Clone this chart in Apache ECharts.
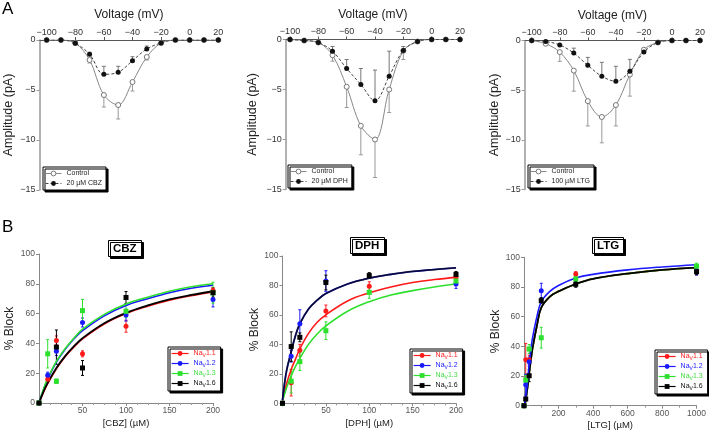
<!DOCTYPE html>
<html><head><meta charset="utf-8">
<script src="https://cdn.jsdelivr.net/npm/echarts@6/dist/echarts.min.js"></script>
<style>html,body{margin:0;padding:0;background:#fff}#c{width:709px;height:434px}</style>
</head><body><div id="c"></div>
<script>
const FONT = '"Liberation Sans", Arial, Helvetica, sans-serif';

// ---------- Panel A data (I-V curves) ----------
const voltages = [-100,-90,-80,-70,-60,-50,-40,-30,-20,-10,0,10,20];
const voltageTicks = [-100,-80,-60,-40,-20,0,20];
const ampTicks = [0,-5,-10,-15];
const drugNamesA = ['20 µM CBZ','20 µM DPH','100 µM LTG'];

const a1Control    = [0,0,-0.3,-2.0,-5.5,-6.5,-4.2,-1.7,-0.3,0,0,0,0];
const a1ControlErr = [0,0,0,0.3,1.2,1.4,0.9,0.3,0,0,0,0,0];
const a1Drug       = [0,0,-0.33,-1.43,-3.43,-3.23,-2.07,-0.9,-0.3,0,0,0,0];
const a1DrugErr    = [0,0,0,0.2,0.8,0.6,0.4,0.3,0,0,0,0,0];

const a2Control    = [0,-0.1,-0.3,-1.57,-4.73,-8.63,-10.0,-5.0,-1.13,-0.2,0,0,0];
const a2ControlErr = [0,0,0,0.6,2.07,2.9,3.8,2.3,0.87,0,0,0,0];
const a2Drug       = [0,-0.1,-0.3,-1.17,-2.9,-4.5,-6.13,-3.67,-1.1,-0.2,0,0,0];
const a2DrugErr    = [0,0,0,0.47,0.9,1.6,3.07,2.5,0.4,0,0,0,0];

const a3Control    = [0,-0.33,-1.17,-3.03,-6.1,-7.7,-6.5,-3.43,-0.93,-0.2,0,0,0];
const a3ControlErr = [0,0,0.93,2.07,2.5,2.6,2.1,2.17,0.3,0,0,0,0];
const a3Drug       = [0,-0.1,-0.45,-1.27,-2.5,-3.6,-4.1,-3.1,-1.17,-0.2,0,0,0];
const a3DrugErr    = [0,0,0,0.5,0.8,1.4,1.5,1.2,0.3,0,0,0,0];

// ---------- Panel B data (% block) ----------
const channels = ['Nav1.1','Nav1.2','Nav1.3','Nav1.6'];
const blockTicks = [0,20,40,60,80,100];

const cbzConc = [0,10,20,50,100,200];
const cbzTicks = [50,100,150,200];
const cbzNav11 = [0,16,42,33,51.5,75.5];   const cbzNav11Err = [0,1.5,3,2,4,2];
const cbzNav12 = [0,18.7,34.8,54,59,69.5]; const cbzNav12Err = [0,2,3,3,4,5];
const cbzNav13 = [0,33,14.6,62,61.5,74];   const cbzNav13Err = [0,9.5,1.5,7.5,4,7];
const cbzNav16 = [0,null,37.5,23.5,70.8,74]; const cbzNav16Err = [0,0,11.5,5,4,3];
const cbzFitConc = [0,5,10,20,30,40,50,75,100,125,150,175,200];
const cbzFit11 = [0,7,13,23,31,37.5,43,53,60,65,69,72,74.5];
const cbzFit12 = [0,8.6,16,27.5,36,43,48.5,58.5,65.5,70,74,77,79];
const cbzFit13 = [0,9,16.5,28,36.5,43.5,49.5,59.5,66.5,71,75,78,80];
const cbzFit16 = [0,7.5,13.5,23.5,31.5,38,43.5,53.5,60.5,65.5,69.5,72.5,75];

const dphConc = [0,10,20,50,100,200];
const dphTicks = [50,100,150,200];
const dphNav11 = [0,14,36,62.7,79.5,85.7];   const dphNav11Err = [0,9,4,4,3,2];
const dphNav12 = [0,32,54,83,null,81];       const dphNav12Err = [0,4,9.5,7,0,3];
const dphNav13 = [0,15,28.3,49.3,75.3,83];   const dphNav13Err = [0,8,6,6,4,2];
const dphNav16 = [0,38.5,44.8,82,86.7,87.5]; const dphNav16Err = [0,10,3,5,2,2];
const dphFitConc = [0,2,5,10,15,20,30,40,50,75,100,125,150,175,200];
const dphFit11 = [2,7,14,23,30,37,47.5,55,60,69.5,75,79,82,84,85.5];
const dphFit12 = [2,12,23,35,46,54,64,70,74.5,81,85,87.5,89.5,90.8,92];
const dphFit13 = [2,5.5,11,18.5,25,30.5,40,47,52.5,62.5,69,73.5,76.5,79,81];
const dphFit16 = [2,12,23,35,46,54,64,70,74.5,81,85,87.5,89.5,90.8,92];

const ltgConc = [0,10,30,100,300,1000];
const ltgTicks = [200,400,600,800,1000];
const ltgNav11 = [0,31,31,null,88.8,null];  const ltgNav11Err = [0,11,3,0,1.5,0];
const ltgNav12 = [0,14.2,29.7,77.5,null,91]; const ltgNav12Err = [0,7,3,5,0,3];
const ltgNav13 = [0,17.3,38.2,45.8,85.4,94]; const ltgNav13Err = [0,3,3,7,2,2];
const ltgNav16 = [0,4.5,20.2,70.8,81.8,90.3]; const ltgNav16Err = [0,1,4,2,2,2];
const ltgFitConc = [0,5,10,20,30,40,50,75,100,150,200,300,400,600,800,1000];
const ltgFit12 = [0,2,6,16,28,38,46,60,70,77,81,86,88.5,91.5,93.5,95];
const ltgFit16 = [0,1,4,12,22,31,39,54,66,73.5,77,82,85.5,89,91.5,93];

// ---------- styling ----------
const COLORS = {'Nav1.1':'#ff1a1a','Nav1.2':'#1a1aff','Nav1.3':'#2ee02e','Nav1.6':'#000000'};
const TEXTC  = {'Nav1.1':'#ff2020','Nav1.2':'#2020ff','Nav1.3':'#40dd40','Nav1.6':'#111111'};
const SYMB   = {'Nav1.1':'circle','Nav1.2':'circle','Nav1.3':'rect','Nav1.6':'rect'};
const KEY    = {'Nav1.1':'r','Nav1.2':'b','Nav1.3':'g','Nav1.6':'k'};

const gridsA = [
  {left:39.5, top:40, width:178.8, height:150},
  {left:285.75, top:39.5, width:174.25, height:150},
  {left:524.7, top:40.5, width:175.3, height:149}
];
const xMinA = [-105,-103,-105];
const yNameGapA = [24,27,22];
const gridsB = [
  {left:39, top:254, width:174, height:149},
  {left:282.5, top:256, width:173.5, height:147.3},
  {left:524, top:257.3, width:174.3, height:148.4}
];
const yNameGapB = [23,21,20];

function minusFmt(v){ return String(v).replace('-', '\u2212'); }
function plainFmt(v){ return String(v); }

const xAxes = [], yAxes = [], series = [], legends = [];

function errSeries(ai, pts, color, cap){
  return {type:'custom', xAxisIndex:ai, yAxisIndex:ai, silent:true, z:2,
    encode:{x:0, y:[1,2]}, data:pts,
    renderItem:function(params, api){
      const x = api.value(0);
      const p1 = api.coord([x, api.value(1)]), p2 = api.coord([x, api.value(2)]);
      const st = {stroke:color, lineWidth:1};
      return {type:'group', children:[
        {type:'line', shape:{x1:p1[0],y1:p1[1],x2:p2[0],y2:p2[1]}, style:st},
        {type:'line', shape:{x1:p1[0]-cap,y1:p1[1],x2:p1[0]+cap,y2:p1[1]}, style:st},
        {type:'line', shape:{x1:p2[0]-cap,y1:p2[1],x2:p2[0]+cap,y2:p2[1]}, style:st}
      ]};
    }};
}

// ----- Panel A -----
const aSets = [
  [a1Control,a1ControlErr,a1Drug,a1DrugErr],
  [a2Control,a2ControlErr,a2Drug,a2DrugErr],
  [a3Control,a3ControlErr,a3Drug,a3DrugErr]
];
const legendPosA = [[43,167],[288,165],[528,165]];
aSets.forEach((set, i) => {
  const [ctrl, ctrlE, drug, drugE] = set;
  xAxes.push({gridIndex:i, type:'value', position:'top', min:xMinA[i], max:20,
    axisLine:{show:true, onZero:false, lineStyle:{color:'#555', width:1}},
    axisTick:{show:true, customValues:voltageTicks, length:3, lineStyle:{color:'#555'}},
    axisLabel:{customValues:voltageTicks, formatter:minusFmt, fontSize:9, color:'#333', margin:3, fontFamily:FONT},
    splitLine:{show:false},
    name:'Voltage (mV)', nameLocation:'middle', nameGap:19,
    nameTextStyle:{fontSize:12, color:'#222', fontFamily:FONT}});
  yAxes.push({gridIndex:i, type:'value', min:-15, max:0, interval:5,
    axisLine:{show:true, onZero:false, lineStyle:{color:'#999', width:1.5}},
    axisTick:{show:true, length:3, lineStyle:{color:'#999'}},
    axisLabel:{customValues:ampTicks, formatter:minusFmt, fontSize:9, color:'#333', margin:4, fontFamily:FONT},
    splitLine:{show:false},
    name:'Amplitude (pA)', nameLocation:'middle', nameGap:yNameGapA[i],
    nameTextStyle:{fontSize:12.5, color:'#222', fontFamily:FONT}});
  const ctrlBars = [], drugBars = [];
  voltages.forEach((v,k) => {
    if (ctrlE[k] > 0) ctrlBars.push([v, ctrl[k]-ctrlE[k], ctrl[k]]);
    if (drugE[k] > 0) drugBars.push([v, drug[k], drug[k]+drugE[k]]);
  });
  series.push(errSeries(i, ctrlBars, '#999', 2));
  series.push(errSeries(i, drugBars, '#777', 2));
  series.push({type:'line', name:'Control', xAxisIndex:i, yAxisIndex:i, z:3,
    data:voltages.map((v,k)=>[v, ctrl[k]]), smooth:0.35, symbol:'circle', symbolSize:5, showAllSymbol:true,
    itemStyle:{color:'#fff', borderColor:'#777', borderWidth:1},
    lineStyle:{color:'#888', width:1}});
  series.push({type:'line', name:drugNamesA[i], xAxisIndex:i, yAxisIndex:i, z:4,
    data:voltages.map((v,k)=>[v, drug[k]]), smooth:0.35, symbol:'circle', symbolSize:5, showAllSymbol:true,
    itemStyle:{color:'#111'},
    lineStyle:{color:'#444', width:1, type:[3,2]}});
  legends.push({left:legendPosA[i][0], top:legendPosA[i][1], orient:'vertical',
    data:['Control', drugNamesA[i]], itemWidth:16, itemHeight:6, itemGap:3,
    padding:[3,4,3,2], borderColor:'#000', borderWidth:1, backgroundColor:'#fff',
    shadowColor:'#000', shadowBlur:0, shadowOffsetX:2, shadowOffsetY:2,
    selectedMode:false,
    lineStyle:{width:1}, itemStyle:{borderWidth:1},
    textStyle:{fontSize:7, color:'#222', fontFamily:FONT}});
});

// ----- Panel B -----
const bSets = [
  {conc:cbzConc, ticks:cbzTicks, max:200, interval:50, minorSplit:4, name:'[CBZ] (µM)',
   pts:[cbzNav11,cbzNav12,cbzNav13,cbzNav16], errs:[cbzNav11Err,cbzNav12Err,cbzNav13Err,cbzNav16Err],
   fitConc:cbzFitConc, fits:[cbzFit11,cbzFit12,cbzFit13,cbzFit16], fitOrder:[0,1,2,3]},
  {conc:dphConc, ticks:dphTicks, max:200, interval:50, minorSplit:4, name:'[DPH] (µM)',
   pts:[dphNav11,dphNav12,dphNav13,dphNav16], errs:[dphNav11Err,dphNav12Err,dphNav13Err,dphNav16Err],
   fitConc:dphFitConc, fits:[dphFit11,dphFit12,dphFit13,dphFit16], fitOrder:[0,2,1,3]},
  {conc:ltgConc, ticks:ltgTicks, max:1000, interval:200, minorSplit:2, name:'[LTG] (µM)',
   pts:[ltgNav11,ltgNav12,ltgNav13,ltgNav16], errs:[ltgNav11Err,ltgNav12Err,ltgNav13Err,ltgNav16Err],
   fitConc:ltgFitConc, fits:[ltgFit16,ltgFit12,ltgFit16,ltgFit16], fitOrder:[0,2,3,1]}
];
const legendPosB = [[168,347],[410,349],[655,350]];
const rich = {};
channels.forEach(c => {
  const k = KEY[c];
  rich['n'+k] = {fontSize:7, color:TEXTC[c], fontFamily:FONT, lineHeight:9};
  rich['s'+k] = {fontSize:5, color:TEXTC[c], fontFamily:FONT, lineHeight:9, verticalAlign:'bottom', padding:[3,0,0,0]};
});
bSets.forEach((b, j) => {
  const ai = 3 + j;
  xAxes.push({gridIndex:ai, type:'value', min:0, max:b.max, interval:b.interval,
    axisLine:{show:true, onZero:false, lineStyle:{color:'#888', width:1}},
    axisTick:{show:true, length:3, lineStyle:{color:'#888'}},
    minorTick:{show:true, splitNumber:b.minorSplit, length:2, lineStyle:{color:'#999'}},
    axisLabel:{customValues:b.ticks, formatter:plainFmt, fontSize:8.5, color:'#555', margin:3, fontFamily:FONT},
    splitLine:{show:false},
    name:b.name, nameLocation:'middle', nameGap:15,
    nameTextStyle:{fontSize:9.5, color:'#222', fontFamily:FONT}});
  yAxes.push({gridIndex:ai, type:'value', min:0, max:100, interval:20,
    axisLine:{show:true, onZero:false, lineStyle:{color:'#888', width:1}},
    axisTick:{show:true, length:3, lineStyle:{color:'#888'}},
    axisLabel:{customValues:blockTicks, formatter:plainFmt, fontSize:8.5, color:'#555', margin:4, fontFamily:FONT},
    splitLine:{show:false},
    name:'% Block', nameLocation:'middle', nameGap:yNameGapB[j],
    nameTextStyle:{fontSize:12, color:'#222', fontFamily:FONT}});
  // fitted curves
  b.fitOrder.forEach((ci, n) => {
    const c = channels[ci];
    series.push({type:'line', name:'fit '+b.name+' '+c, xAxisIndex:ai, yAxisIndex:ai, silent:true,
      z:3+n*0.01, data:b.fitConc.map((x,k)=>[x, b.fits[ci][k]]), smooth:0.4, symbol:'none',
      lineStyle:{color:COLORS[c], width:(c==='Nav1.6'?1.8:1.6), opacity:(j===1&&c==='Nav1.6')?0.75:1}});
  });
  // error bars
  channels.forEach((c, ci) => {
    const bars = [];
    b.conc.forEach((x,k) => {
      const y = b.pts[ci][k], e = b.errs[ci][k];
      if (y != null && e > 0) bars.push([x, y-e, y+e]);
    });
    series.push(errSeries(ai, bars, COLORS[c], 1.5));
  });
  // data points
  channels.forEach((c, ci) => {
    series.push({type:'line', name:c, xAxisIndex:ai, yAxisIndex:ai, z:5,
      data:b.conc.map((x,k)=>[x, b.pts[ci][k]]), symbol:SYMB[c], symbolSize:5, showAllSymbol:true,
      itemStyle:{color:COLORS[c]}, lineStyle:{color:COLORS[c], width:0}});
  });
  legends.push({left:legendPosB[j][0], top:legendPosB[j][1], orient:'vertical',
    data:channels.map(c=>({name:c})), itemWidth:17, itemHeight:6, itemGap:2,
    padding:[3,5,3,3], borderColor:'#000', borderWidth:1, backgroundColor:'#fff',
    shadowColor:'#000', shadowBlur:0, shadowOffsetX:2, shadowOffsetY:2,
    selectedMode:false,
    lineStyle:{width:1.2}, itemStyle:{borderWidth:0},
    formatter: name => `{n${KEY[name]}|Na}{s${KEY[name]}|V}{n${KEY[name]}|${name.slice(3)}}`,
    textStyle:{fontSize:7, fontFamily:FONT, rich:rich}});
});

const boxTitle = (text, left, top) => ({text, left, top, padding:[2,5,2,5],
  borderColor:'#000', borderWidth:1, backgroundColor:'#fff',
  shadowColor:'#000', shadowBlur:0, shadowOffsetX:2, shadowOffsetY:2,
  textStyle:{fontSize:11.5, fontWeight:'bold', color:'#000', fontFamily:FONT, lineHeight:13}});

const option = {
  animation:false,
  backgroundColor:'#fff',
  textStyle:{fontFamily:FONT},
  title:[
    {text:'A', left:2, top:1, padding:0, textStyle:{fontSize:17, fontWeight:'normal', color:'#000', fontFamily:FONT}},
    {text:'B', left:2, top:219, padding:0, textStyle:{fontSize:17, fontWeight:'normal', color:'#000', fontFamily:FONT}},
    boxTitle('CBZ', 108, 240),
    boxTitle('DPH', 350, 237),
    boxTitle('LTG', 592, 237)
  ],
  grid: gridsA.concat(gridsB),
  xAxis: xAxes,
  yAxis: yAxes,
  legend: legends,
  series: series
};
const chart = echarts.init(document.getElementById('c'));
chart.setOption(option);
</script>
</body></html>
